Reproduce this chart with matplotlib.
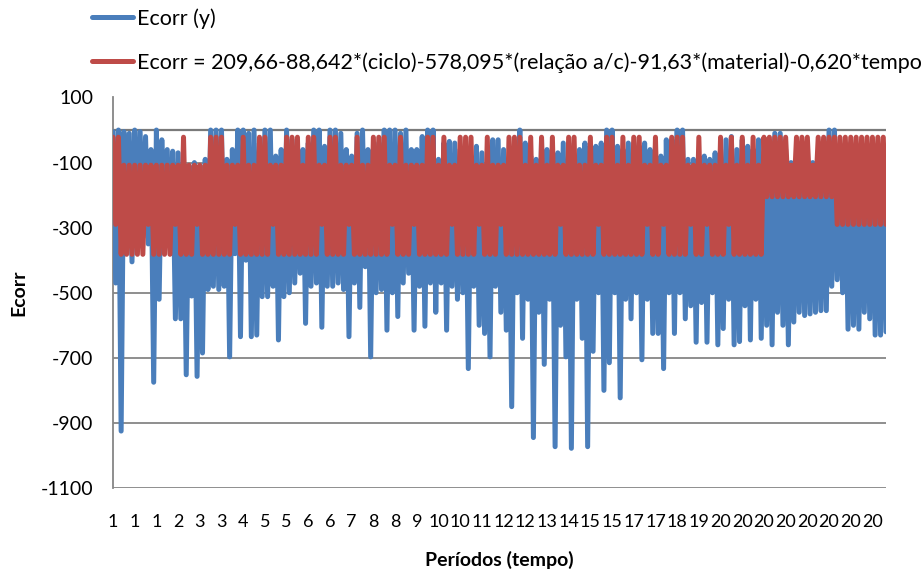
import matplotlib
matplotlib.use("Agg")
import matplotlib.pyplot as plt
import numpy as np

plt.rcParams['font.family'] = ['Lato', 'DejaVu Sans']

# Ecorr medido (y) - 8 pontos por rótulo do eixo x
ecorr_y = [
    -5, -470, 0, -925, -5, -360, -10, -405,
    0, -300, -5, -330, -20, -350, -60, -775,
    0, -520, -30, -360, -60, -350, -65, -580,
    -70, -580, -110, -752, -110, -510, -100, -757,
    -110, -685, -90, -490, 0, -480, 0, -490,
    0, -480, -90, -697, -60, -380, 0, -635,
    0, -400, -10, -635, 0, -630, -40, -512,
    0, -512, 0, -480, -80, -645, -60, -512,
    0, -500, -30, -470, -90, -440, -60, -594,
    -40, -480, 0, -470, 0, -606, -50, -480,
    0, -480, 0, -470, -10, -490, -60, -635,
    -80, -470, -10, -545, 0, -420, -60, -697,
    -60, -500, -40, -490, 0, -615, 0, -500,
    0, -573, -10, -470, 0, -440, -60, -615,
    -60, -480, -20, -603, 0, -470, 0, -560,
    -90, -470, -40, -615, -35, -480, -40, -520,
    -60, -500, -70, -733, -80, -480, -50, -600,
    -70, -625, -100, -697, -30, -480, -30, -560,
    -60, -615, -90, -850, -80, -500, 0, -640,
    -40, -520, -80, -945, -90, -560, -30, -720,
    -60, -520, -100, -973, -70, -600, -40, -697,
    -40, -978, -80, -520, -60, -640, -40, -973,
    -50, -680, -50, -500, -40, -800, 0, -715,
    0, -500, -50, -823, -60, -520, -40, -580,
    -40, -500, -50, -706, -40, -520, -60, -625,
    -50, -625, -80, -733, -30, -500, -30, -625,
    0, -500, 0, -580, -90, -540, -90, -652,
    -80, -530, -80, -652, -90, -500, -70, -660,
    -60, -610, -30, -520, -20, -660, -60, -650,
    -30, -540, -50, -645, -60, -520, -30, -640,
    -40, -600, -50, -660, -10, -560, -10, -600,
    -60, -660, -100, -590, -100, -560, -100, -570,
    -100, -565, -100, -560, -80, -555, -60, -555,
    0, -480, 0, -460, -60, -500, -80, -612,
    -40, -600, -60, -612, -50, -560, -60, -580,
    -40, -630, -60, -630, -50, -620,
]

# Ecorr estimado pela regressão
ecorr_modelo = [
    -22, -290, -22, -382, -108, -382, -108, -382,
    -108, -382, -108, -382, -108, -290, -108, -382,
    -108, -382, -108, -382, -108, -382, -108, -290,
    -108, -382, -22, -382, -108, -382, -108, -290,
    -108, -382, -108, -382, -22, -382, -22, -382,
    -22, -382, -108, -382, -108, -290, -108, -382,
    -22, -382, -108, -382, -108, -382, -22, -382,
    -22, -382, -108, -290, -108, -382, -108, -382,
    -22, -382, -22, -382, -22, -382, -108, -382,
    -22, -382, -22, -382, -108, -290, -108, -382,
    -22, -382, -22, -382, -108, -382, -108, -290,
    -108, -382, -22, -382, -108, -382, -108, -382,
    -22, -382, -22, -382, -22, -382, -108, -290,
    -108, -382, -22, -382, -108, -382, -108, -290,
    -108, -382, -108, -382, -22, -382, -22, -382,
    -108, -382, -22, -382, -108, -290, -108, -382,
    -22, -382, -22, -382, -22, -382, -108, -290,
    -108, -382, -22, -382, -108, -382, -108, -290,
    -108, -382, -22, -382, -22, -382, -22, -382,
    -108, -382, -22, -382, -108, -382, -22, -382,
    -108, -382, -22, -382, -108, -290, -108, -382,
    -22, -382, -22, -382, -108, -382, -108, -382,
    -22, -382, -108, -290, -108, -382, -22, -382,
    -22, -382, -108, -382, -22, -382, -108, -382,
    -22, -382, -22, -382, -108, -290, -108, -382,
    -22, -382, -108, -290, -108, -382, -22, -382,
    -22, -382, -22, -382, -108, -290, -108, -382,
    -22, -382, -108, -290, -108, -382, -108, -382,
    -22, -382, -108, -290, -22, -382, -108, -382,
    -22, -382, -108, -382, -22, -382, -108, -382,
    -22, -205, -22, -205, -22, -205, -22, -205,
    -22, -205, -108, -205, -22, -205, -22, -205,
    -22, -205, -108, -205, -22, -205, -22, -205,
    -22, -205, -22, -290, -22, -290, -22, -290,
    -22, -290, -22, -290, -22, -290, -22, -290,
    -22, -290, -22, -290, -22, -290,
]

# rótulos do eixo de categorias (período), um a cada 8 pontos
periodos = [1, 1, 1, 2, 3, 3, 4, 5, 5, 6, 6, 7, 8, 8, 9, 10, 10, 11, 12,
            12, 13, 14, 15, 15, 17, 17, 18, 19, 20, 20, 20, 20, 20, 20, 20, 20]
passo = 8

yticks = [100, -100, -300, -500, -700, -900, -1100]

azul = '#4A7EBB'
vermelho = '#BE4B48'
cinza = '#868686'

fig = plt.figure(figsize=(9.21, 5.75), dpi=100)
ax = fig.add_axes([113 / 921, 1 - 488 / 575, 773 / 921, 390.5 / 575])

x = np.arange(len(ecorr_y))
l1, = ax.plot(x, ecorr_y, color=azul, lw=3.6, solid_joinstyle='round',
              solid_capstyle='round', zorder=3, label='Ecorr (y)')
l2, = ax.plot(x, ecorr_modelo, color=vermelho, lw=3.6, solid_joinstyle='round',
              solid_capstyle='round', zorder=4,
              label='Ecorr = 209,66-88,642*(ciclo)-578,095*(relação a/c)-91,63*(material)-0,620*tempo')

ax.set_xlim(0, len(ecorr_y) - 1)
ax.set_ylim(-1100, 100)
ax.set_yticks(yticks)
ax.set_yticklabels([str(v) for v in yticks])
ax.set_xticks(np.arange(0, len(periodos) * passo, passo))
ax.set_xticklabels([str(p) for p in periodos])

for s in ['top', 'right', 'bottom']:
    ax.spines[s].set_visible(False)
ax.spines['left'].set_color(cinza)
ax.spines['left'].set_linewidth(1.3)

ax.grid(axis='y', color=cinza, lw=1.3, zorder=1)
ax.set_axisbelow(True)
ax.axhline(0, color='#7a7a7a', lw=1.6, zorder=2)

ax.tick_params(axis='y', length=0, pad=14, labelsize=14)
ax.tick_params(axis='x', length=0, pad=19, labelsize=13)

ax.set_ylabel('Ecorr', fontsize=14, fontweight='bold', labelpad=10)
ax.set_xlabel('Períodos (tempo)', fontsize=14, fontweight='bold', labelpad=15)

fig.legend(handles=[l1, l2], loc='upper left', bbox_to_anchor=(92 / 921, 0.986),
           frameon=False, fontsize=15.5, handlelength=1.9, handletextpad=0.19,
           labelspacing=1.09, borderpad=0, borderaxespad=0)

fig.savefig('out.png', dpi=100)
